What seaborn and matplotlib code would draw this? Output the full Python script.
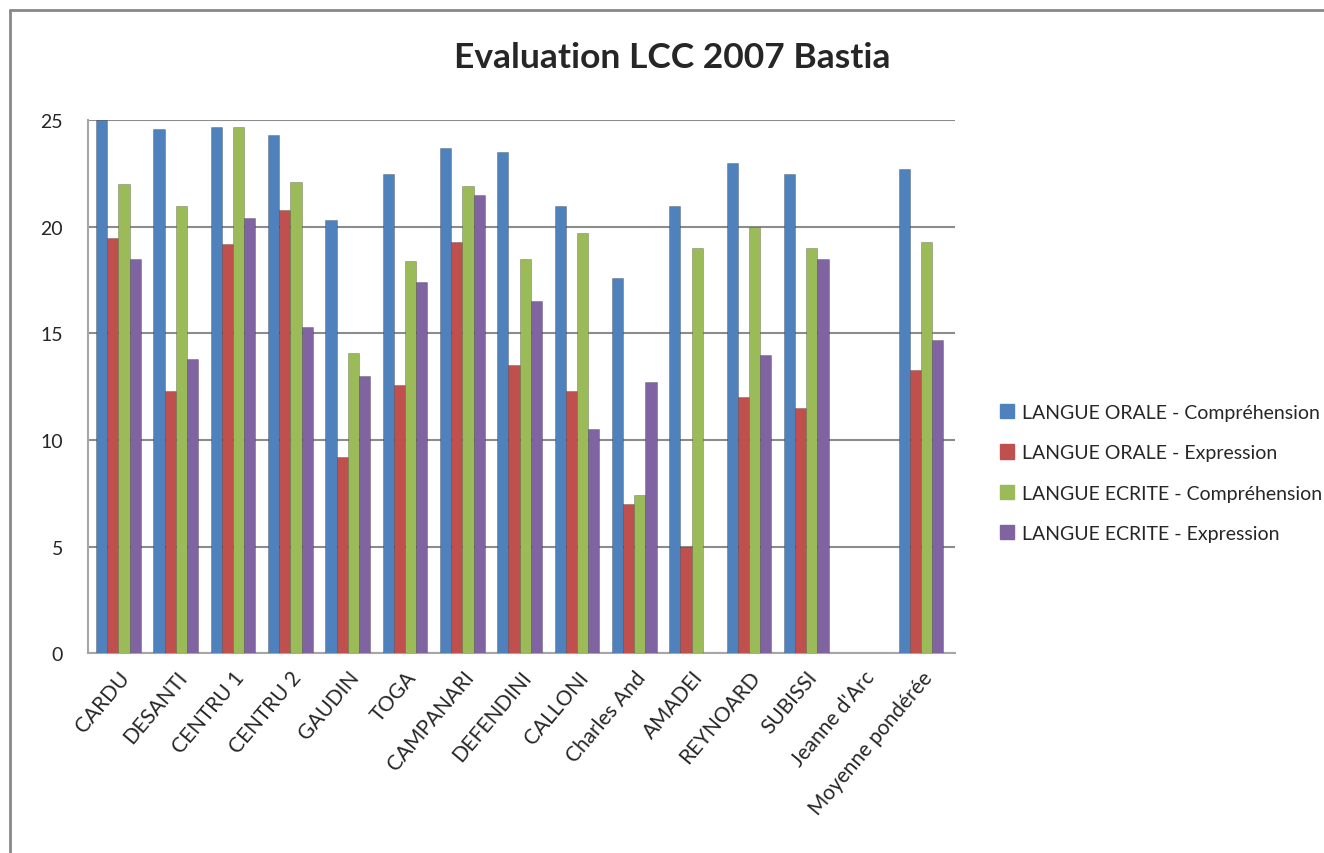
import numpy as np
import pandas as pd
import seaborn as sns
import matplotlib.pyplot as plt
from matplotlib.lines import Line2D

# Values
schools = ["CARDU", "DESANTI", "CENTRU 1", "CENTRU 2", "GAUDIN", "TOGA",
           "CAMPANARI", "DEFENDINI", "CALLONI", "Charles And", "AMADEI",
           "REYNOARD", "SUBISSI", "Jeanne d'Arc", "Moyenne pondérée"]
series = ["LANGUE ORALE - Compréhension", "LANGUE ORALE - Expression",
          "LANGUE ECRITE - Compréhension", "LANGUE ECRITE - Expression"]
oral_comp = [25.0, 24.6, 24.7, 24.3, 20.3, 22.5, 23.7, 23.5, 21.0, 17.6, 21.0, 23.0, 22.5, np.nan, 22.7]
oral_expr = [19.5, 12.3, 19.2, 20.8, 9.2, 12.6, 19.3, 13.5, 12.3, 7.0, 5.0, 12.0, 11.5, np.nan, 13.3]
ecrit_comp = [22.0, 21.0, 24.7, 22.1, 14.1, 18.4, 21.9, 18.5, 19.7, 7.4, 19.0, 20.0, 19.0, np.nan, 19.3]
ecrit_expr = [18.5, 13.8, 20.4, 15.3, 13.0, 17.4, 21.5, 16.5, 10.5, 12.7, 0.0, 14.0, 18.5, np.nan, 14.7]
colors = ["#4F81BD", "#C0504D", "#9BBB59", "#8064A2"]

df = pd.DataFrame({"ecole": schools, series[0]: oral_comp, series[1]: oral_expr,
                   series[2]: ecrit_comp, series[3]: ecrit_expr})
long = df.melt(id_vars="ecole", var_name="serie", value_name="note")

sns.set_style("white")
plt.rcParams["font.family"] = ["Lato", "DejaVu Sans"]

fig = plt.figure(figsize=(13.24, 8.54), dpi=100)
ax = fig.add_axes([0.0665, 0.234, 0.655, 0.624])

sns.barplot(data=long, x="ecole", y="note", hue="serie", hue_order=series,
            order=schools, palette=colors, width=0.78, gap=0, saturation=1,
            errorbar=None, ax=ax, legend=False, zorder=3)

# darker edge to hint at the 3D look
for bar in ax.patches:
    bar.set_edgecolor((0, 0, 0, 0.25))
    bar.set_linewidth(0.6)

ax.set_ylim(0, 25)
ax.set_xlim(-0.53, 14.6)
ax.set_yticks([0, 5, 10, 15, 20, 25])
ax.yaxis.grid(True, color="#8c8c8c", linewidth=1.5, zorder=0)
ax.set_xlabel("")
ax.set_ylabel("")
ax.tick_params(axis="y", labelsize=14, pad=18, length=0)
ax.tick_params(axis="x", labelsize=15, length=0, pad=10)
plt.setp(ax.get_xticklabels(), rotation=50, ha="right", rotation_mode="anchor")
for side in ["top", "right"]:
    ax.spines[side].set_visible(False)
for side in ["left", "bottom"]:
    ax.spines[side].set_color("#a6a6a6")
    ax.spines[side].set_linewidth(1.5)

fig.text(0.508, 0.932, "Evaluation LCC 2007 Bastia", ha="center", va="center",
         fontsize=25.5, fontweight="bold")

handles = [plt.Rectangle((0, 0), 1, 1, color=c) for c in colors]
fig.legend(handles, series, loc="center left", bbox_to_anchor=(0.742, 0.445),
           frameon=False, fontsize=14, handlelength=0.75, handleheight=0.75,
           handletextpad=0.4, labelspacing=1.2)

# chart frame (top and left edges)
fig.add_artist(Line2D([0.0076, 1.0], [0.987, 0.987], color="#888888", linewidth=2,
                      transform=fig.transFigure))
fig.add_artist(Line2D([0.0076, 0.0076], [0.0, 0.987], color="#888888", linewidth=2,
                      transform=fig.transFigure))

fig.savefig("out.png", dpi=100)
